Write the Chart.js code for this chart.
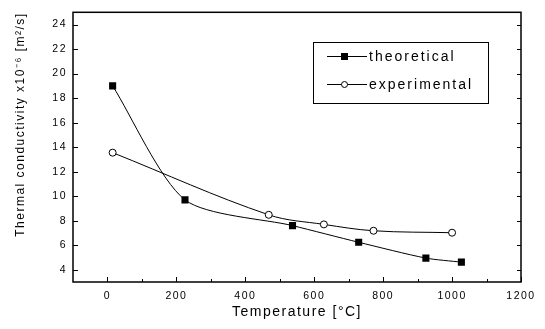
<!DOCTYPE html>
<html>
<head>
<meta charset="utf-8">
<script src="https://cdn.jsdelivr.net/npm/chart.js@4/dist/chart.umd.min.js"></script>
<style>
  html, body { margin: 0; padding: 0; background: #fff; }
  #wrap { width: 545px; height: 329px; }
</style>
</head>
<body>
<div id="wrap"><canvas id="c" width="545" height="329"></canvas></div>
<script>
// ---- data ----
const seriesNames = ['theoretical', 'experimental'];
const theoreticalX = [15, 225, 537, 729, 924, 1027];
const theoreticalY = [19.0, 9.7, 7.6, 6.24, 4.95, 4.62];
const experimentalX = [15, 468, 628, 772, 1000];
const experimentalY = [13.55, 8.48, 7.7, 7.18, 7.02];
const xTickValues = [0, 200, 400, 600, 800, 1000, 1200];
const xMinorValues = [100, 300, 500, 700, 900, 1100];
const yTickValues = [4, 6, 8, 10, 12, 14, 16, 18, 20, 22, 24];
const xTitle = 'Temperature [\u00B0C]';
const yTitle = 'Thermal conductivity x10\u207B\u2076 [m\u00B2/s]';

const FONT = "'Liberation Sans', Arial, Helvetica, sans-serif";

function pts(xs, ys) { return xs.map((x, i) => ({ x: x, y: ys[i] })); }

const spacing = {
  id: 'spacing',
  beforeDraw(chart) {
    if ('letterSpacing' in chart.ctx) chart.ctx.letterSpacing = '1.5px';
  }
};

const frameAndTicks = {
  id: 'frameAndTicks',
  afterDraw(chart) {
    const { ctx, chartArea: a, scales: { x, y } } = chart;
    ctx.save();
    ctx.strokeStyle = '#000';
    ctx.lineWidth = 1;
    ctx.beginPath();
    yTickValues.forEach(v => {
      const p = Math.round(y.getPixelForValue(v)) + 0.5;
      ctx.moveTo(a.left, p); ctx.lineTo(a.left + 5, p);
      ctx.moveTo(a.right, p); ctx.lineTo(a.right - 4, p);
    });
    xTickValues.forEach(v => {
      const p = Math.round(x.getPixelForValue(v)) + 0.5;
      ctx.moveTo(p, a.bottom); ctx.lineTo(p, a.bottom - 5);
    });
    xMinorValues.forEach(v => {
      const p = Math.round(x.getPixelForValue(v)) + 0.5;
      ctx.moveTo(p, a.bottom); ctx.lineTo(p, a.bottom - 3);
    });
    ctx.stroke();
    ctx.lineWidth = 1.5;
    ctx.strokeRect(a.left, a.top, a.right - a.left, a.bottom - a.top);
    ctx.restore();
  }
};

const insideLegend = {
  id: 'insideLegend',
  afterDraw(chart) {
    const { ctx } = chart;
    const bx = 313, by = 42, bw = 175, bh = 61;
    ctx.save();
    ctx.fillStyle = '#fff';
    ctx.fillRect(bx, by, bw, bh);
    ctx.strokeStyle = '#000';
    ctx.lineWidth = 1;
    ctx.strokeRect(bx + 0.5, by + 0.5, bw, bh);
    const rows = [by + 14, by + 42];
    chart.data.datasets.forEach((ds, i) => {
      const yy = rows[i];
      ctx.beginPath();
      ctx.lineWidth = 1;
      ctx.moveTo(bx + 14, yy + 0.5); ctx.lineTo(bx + 54, yy + 0.5);
      ctx.stroke();
      if (i === 0) {
        ctx.fillStyle = '#000';
        ctx.fillRect(bx + 28, yy - 3, 7, 7);
      } else {
        ctx.beginPath();
        ctx.fillStyle = '#fff';
        ctx.arc(bx + 31.5, yy + 0.5, 3, 0, Math.PI * 2);
        ctx.fill(); ctx.stroke();
      }
      ctx.fillStyle = '#000';
      ctx.font = '14px ' + FONT;
      ctx.textBaseline = 'middle';
      ctx.textAlign = 'left';
      if ('letterSpacing' in ctx) ctx.letterSpacing = '2px';
      ctx.fillText(ds.label, bx + 56, yy + 1);
    });
    ctx.restore();
  }
};

new Chart(document.getElementById('c'), {
  type: 'scatter',
  data: {
    datasets: [
      {
        label: seriesNames[0],
        data: pts(theoreticalX, theoreticalY),
        showLine: true,
        borderColor: '#000',
        borderWidth: 1,
        backgroundColor: '#000',
        pointStyle: 'rect',
        pointRadius: 5,
        pointBorderWidth: 0,
        tension: 0.25
      },
      {
        label: seriesNames[1],
        data: pts(experimentalX, experimentalY),
        showLine: true,
        borderColor: '#000',
        borderWidth: 1,
        backgroundColor: '#fff',
        pointBackgroundColor: '#fff',
        pointStyle: 'circle',
        pointRadius: 3.5,
        pointBorderWidth: 1,
        tension: 0.35
      }
    ]
  },
  options: {
    responsive: false,
    animation: false,
    devicePixelRatio: 1,
    layout: { padding: { top: 9, right: 24, left: 0, bottom: 0 } },
    plugins: { legend: { display: false }, tooltip: { enabled: false } },
    scales: {
      x: {
        type: 'linear',
        min: -100, max: 1200,
        afterBuildTicks: s => { s.ticks = xTickValues.map(v => ({ value: v })); },
        afterFit: s => { s.height = 47; },
        grid: { display: false, drawTicks: false },
        border: { display: false },
        ticks: { color: '#000', font: { family: FONT, size: 10.5 }, padding: 8, maxRotation: 0, autoSkip: false, callback: v => String(v) },
        title: { display: true, text: xTitle, color: '#000', font: { family: FONT, size: 14 }, padding: { top: 0, bottom: 8 } }
      },
      y: {
        type: 'linear',
        min: 3, max: 25,
        afterBuildTicks: s => { s.ticks = yTickValues.map(v => ({ value: v })); },
        afterFit: s => { s.width = 73; },
        grid: { display: false, drawTicks: false },
        border: { display: false },
        ticks: { color: '#000', font: { family: FONT, size: 10.5 }, padding: 6, autoSkip: false, callback: v => String(v) },
        title: { display: true, text: yTitle, align: 'end', color: '#000', font: { family: FONT, size: 12 }, padding: { top: 13, bottom: 0 } }
      }
    }
  },
  plugins: [spacing, frameAndTicks, insideLegend]
});
</script>
</body>
</html>
